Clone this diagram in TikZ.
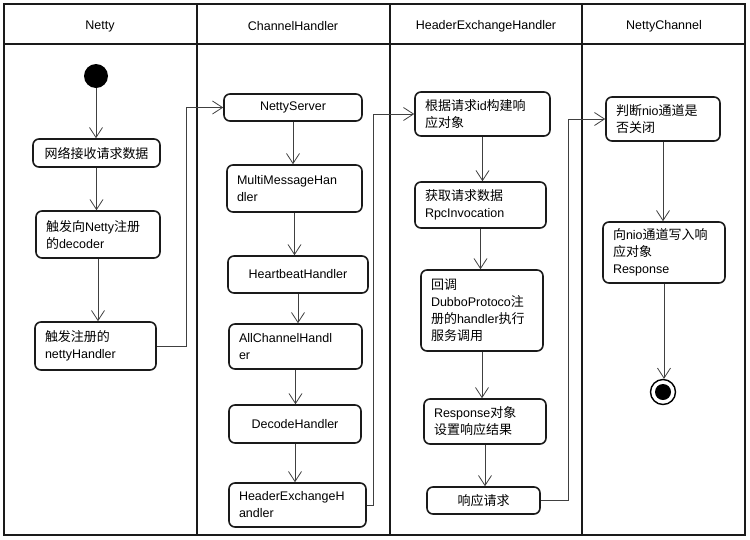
\documentclass[tikz,border=0pt]{standalone}
\usepackage{fontspec}
\setmainfont{Liberation Sans}
\newfontfamily\cjk[Scale=1.04]{Noto Sans CJK SC}
\usetikzlibrary{arrows.meta, positioning, calc}
\definecolor{linec}{HTML}{1A1A1A}
% activity box: [extra], name, centre, width, height, text
\newcommand{\actbox}[6][]{%
  \node[act, minimum width=#4pt, minimum height=#5pt,
        text width=#4pt-20pt, #1] (#2) at #3 {#6};
}

\begin{document}
\begin{tikzpicture}[x=1pt, y=-1pt,
    >={Straight Barb[length=10pt, width=13pt]},
    font=\fontsize{12.5}{17}\selectfont,
    act/.style={draw=linec, line width=1.6pt, rounded corners=6pt,
      fill=white, inner sep=0pt, align=left},
    lane/.style={draw=linec, line width=1.6pt},
    flow/.style={->, draw=black!75, line width=0.8pt}]
  \useasboundingbox[fill=white] (0,0) rectangle (750,539);

  % swimlanes
  \draw[lane] (4,4) rectangle (745,535);
  \draw[lane] (4,44) -- (745,44);
  \foreach \x in {197,390,582} \draw[lane] (\x,4) -- (\x,535);
  \foreach \x/\t in {100/Netty, 293/ChannelHandler,
      486/HeaderExchangeHandler, 664/NettyChannel}
    \node (hd\x) at (\x,26) {\t};

  % Netty
  \node[circle, fill=black, minimum size=24pt, inner sep=0pt] (start) at (96,76) {};
  \actbox[align=center]{recv}{(96.5,153)}{127}{28}{{\cjk 网络接收请求数据}}
  \actbox{dec}{(98,234.5)}{124}{47}{{\cjk 触发向}Netty{\cjk 注册}\\{\cjk 的}decoder}
  \actbox{nh}{(95.5,346)}{121}{48}{{\cjk 触发注册的}\\nettyHandler}

  % ChannelHandler
  \actbox[align=center]{ns}{(293,107.5)}{138}{27}{NettyServer}
  \actbox{mmh}{(294.5,188.5)}{135}{47}{MultiMessageHan\\dler}
  \actbox[align=center]{hb}{(298,274.5)}{140}{37}{HeartbeatHandler}
  \actbox{ach}{(295.5,346.5)}{133}{45}{AllChannelHandl\\er}
  \actbox[align=center]{dh}{(295,424)}{132}{38}{DecodeHandler}
  \actbox{heh}{(297.5,505)}{137}{44}{HeaderExchangeH\\andler}

  % HeaderExchangeHandler
  \actbox{build}{(482.5,114)}{135}{44}{{\cjk 根据请求}id{\cjk 构建响}\\{\cjk 应对象}}
  \actbox{get}{(480.5,205)}{131}{46}{{\cjk 获取请求数据}\\RpcInvocation}
  \actbox{call}{(482,310.5)}{122}{81}{{\cjk 回调}\\DubboProtoco{\cjk 注}\\{\cjk 册的}handler{\cjk 执行}\\{\cjk 服务调用}}
  \actbox{set}{(485,421.5)}{122}{45}{Response{\cjk 对象}\\{\cjk 设置响应结果}}
  \actbox[align=center]{resp}{(483.5,500.5)}{113}{27}{{\cjk 响应请求}}

  % NettyChannel
  \actbox{chk}{(663,119)}{114}{44}{{\cjk 判断}nio{\cjk 通道是}\\{\cjk 否关闭}}
  \actbox{wr}{(664,252.5)}{122}{61}{{\cjk 向}nio{\cjk 通道写入响}\\{\cjk 应对象}\\Response}
  \node[circle, draw=black, line width=1.4pt, minimum size=25pt, inner sep=0pt] (stop) at (663,392) {};
  \node[circle, fill=black, minimum size=16pt, inner sep=0pt] (stopdot) at (stop) {};

  % flows
  \foreach \a/\b in {start/recv, recv/dec, dec/nh, ns/mmh, mmh/hb, hb/ach,
      ach/dh, dh/heh, build/get, get/call, call/set, set/resp, chk/wr, wr/stop}
    \draw[flow] (\a.south) -- (\a.south |- \b.north);
  \draw[flow] (nh.east) -- ++(30,0) |- (ns.west);
  \draw[flow] (heh.east) -- ++(7,0) |- (build.west);
  \draw[flow] (resp.east) -- ++(28,0) |- (chk.west);
\end{tikzpicture}
\end{document}
